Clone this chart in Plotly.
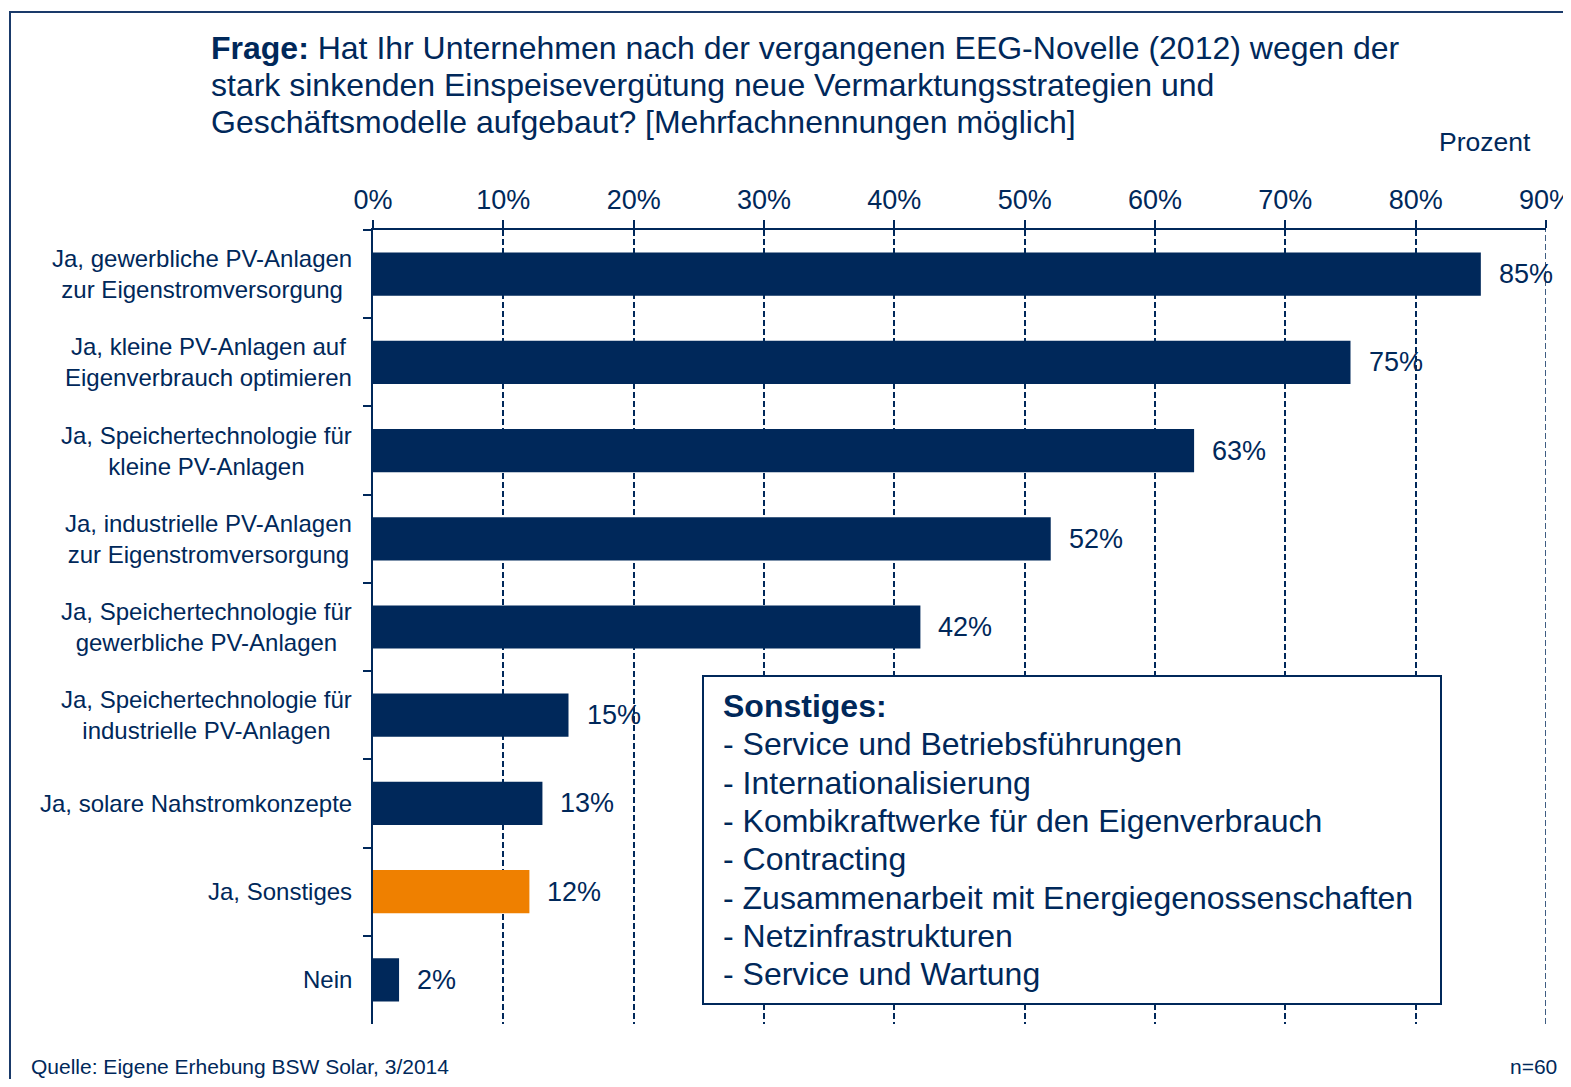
import plotly.graph_objects as go

categories = [
    "Ja, gewerbliche PV-Anlagen<br>zur Eigenstromversorgung",
    "Ja, kleine PV-Anlagen auf<br>Eigenverbrauch optimieren",
    "Ja, Speichertechnologie für<br>kleine PV-Anlagen",
    "Ja, industrielle PV-Anlagen<br>zur Eigenstromversorgung",
    "Ja, Speichertechnologie für<br>gewerbliche PV-Anlagen",
    "Ja, Speichertechnologie für<br>industrielle PV-Anlagen",
    "Ja, solare Nahstromkonzepte",
    "Ja, Sonstiges",
    "Nein",
]
values = [85, 75, 63, 52, 42, 15, 13, 12, 2]
highlight = "Ja, Sonstiges"
tick_values = [0, 10, 20, 30, 40, 50, 60, 70, 80, 90]
tick_labels = [f"{t}%" for t in tick_values]

title_lines = [
    "<b>Frage:</b> Hat Ihr Unternehmen nach der vergangenen EEG-Novelle (2012) wegen der",
    "stark sinkenden Einspeisevergütung neue Vermarktungsstrategien und",
    "Geschäftsmodelle aufgebaut? [Mehrfachnennungen möglich]",
]
sonstiges_title = "Sonstiges:"
sonstiges_items = [
    "Service und Betriebsführungen",
    "Internationalisierung",
    "Kombikraftwerke für den Eigenverbrauch",
    "Contracting",
    "Zusammenarbeit mit Energiegenossenschaften",
    "Netzinfrastrukturen",
    "Service und Wartung",
]

NAVY = "#00285A"
ORANGE = "#EF8000"
FONT = "Liberation Sans, Arial, sans-serif"

# the page body has an 8px margin; lay the figure out in page pixels
OFF = 8
W, H = 1571 - 2 * OFF, 1087 - 2 * OFF
PL, PR, PT, PB = 373, 1546, 230, 1024  # plot area in page pixels
L, T = PL - OFF, PT - OFF
R, B = W - (PR - OFF), H - (PB - OFF)
PW, PH = W - L - R, H - T - B


def px(x):
    return (x - OFF - L) / PW


def py(y):
    return 1 - (y - OFF - T) / PH


colors = [ORANGE if c == highlight else NAVY for c in categories]

fig = go.Figure(
    go.Bar(
        x=values,
        y=categories,
        orientation="h",
        marker=dict(color=colors, line=dict(width=0)),
        width=0.49,
        hoverinfo="x+y",
    )
)

annotations = []
# category labels (centered multi-line)
for c in categories:
    annotations.append(dict(
        x=px(354), xref="paper", y=c, yref="y", xanchor="right", yanchor="middle",
        text=c, align="center", showarrow=False,
        font=dict(family=FONT, size=24, color=NAVY),
    ))
# value labels
for c, v in zip(categories, values):
    annotations.append(dict(
        x=v, xref="x", y=c, yref="y", xanchor="left", yanchor="middle",
        xshift=16, text=f"{v}%", showarrow=False,
        font=dict(family=FONT, size=27, color=NAVY),
    ))
# title lines
for i, ln in enumerate(title_lines):
    annotations.append(dict(
        x=px(209), y=py(48 + 37 * i), xref="paper", yref="paper", xanchor="left",
        yanchor="middle", showarrow=False, text=ln,
        font=dict(family=FONT, size=32, color=NAVY),
    ))
annotations.append(dict(
    x=px(1485), y=py(142), xref="paper", yref="paper", xanchor="center", yanchor="middle",
    text="Prozent", showarrow=False, font=dict(family=FONT, size=26.5, color=NAVY),
))
annotations.append(dict(
    x=px(29), y=py(1066), xref="paper", yref="paper", xanchor="left", yanchor="middle",
    text="Quelle: Eigene Erhebung BSW Solar, 3/2014", showarrow=False,
    font=dict(family=FONT, size=21, color=NAVY),
))
annotations.append(dict(
    x=px(1559), y=py(1066), xref="paper", yref="paper", xanchor="right", yanchor="middle",
    text="n=60", showarrow=False, font=dict(family=FONT, size=21, color=NAVY),
))
# Sonstiges box text
box_lines = [f"<b>{sonstiges_title}</b>"] + ["- " + s for s in sonstiges_items]
for i, ln in enumerate(box_lines):
    annotations.append(dict(
        x=px(721), y=py(706 + 38.3 * i), xref="paper", yref="paper", xanchor="left",
        yanchor="middle", showarrow=False, text=ln,
        font=dict(family=FONT, size=32, color=NAVY),
    ))

shapes = [
    # outer frame
    dict(type="rect", xref="paper", yref="paper", x0=px(10), y0=py(1140), x1=px(1640), y1=py(12),
         line=dict(color="#1A3A6A", width=2), fillcolor="rgba(0,0,0,0)", layer="below"),
    # gridline at the far end of the axis (plotly omits it at the plot edge)
    dict(type="line", xref="x", yref="paper", x0=tick_values[-1], x1=tick_values[-1], y0=0, y1=1,
         line=dict(color=NAVY, width=1.5, dash="6px,3px"), layer="below"),
    # Sonstiges box
    dict(type="rect", xref="paper", yref="paper", x0=px(703), y0=py(1004), x1=px(1441), y1=py(676),
         line=dict(color=NAVY, width=2), fillcolor="white", layer="above"),
]

fig.update_layout(
    width=W, height=H,
    margin=dict(l=L, r=R, t=T, b=B, autoexpand=False),
    paper_bgcolor="white", plot_bgcolor="white",
    showlegend=False,
    annotations=annotations,
    shapes=shapes,
    font=dict(family=FONT, color=NAVY),
    xaxis=dict(
        side="top", range=[0, 90], tickvals=tick_values, ticktext=tick_labels,
        ticks="outside", ticklen=8, tickwidth=2, tickcolor=NAVY,
        showline=True, linecolor=NAVY, linewidth=2, ticklabeloverflow="allow",
        showgrid=True, gridcolor=NAVY, gridwidth=1.5, griddash="6px,3px",
        zeroline=False, tickfont=dict(family=FONT, size=27, color=NAVY),
        fixedrange=True,
    ),
    yaxis=dict(
        type="category", categoryorder="array", categoryarray=categories,
        autorange="reversed", tickson="boundaries", ticks="outside", ticklen=8,
        tickwidth=2, tickcolor=NAVY, showline=True, linecolor=NAVY, linewidth=2,
        showticklabels=False, showgrid=False, zeroline=False, fixedrange=True,
    ),
)

fig.write_html("out.html")
